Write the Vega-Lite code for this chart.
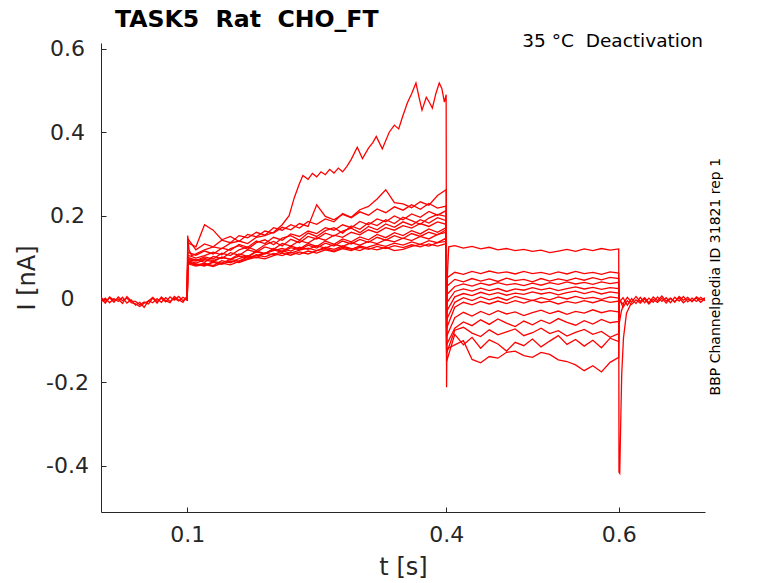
{
  "$schema": "https://vega.github.io/schema/vega-lite/v6.json",
  "width": 604,
  "height": 469,
  "autosize": {"type": "none"},
  "padding": {"left": 101, "top": 43, "right": 73, "bottom": 71},
  "background": "white",
  "data": {
    "values": [
      {"s":"b1","t":0,"i":0.004},{"s":"b1","t":0.005,"i":-0.006},{"s":"b1","t":0.01,"i":0.003},{"s":"b1","t":0.015,"i":-0.008},{"s":"b1","t":0.02,"i":0.005},{"s":"b1","t":0.025,"i":-0.004},{"s":"b1","t":0.03,"i":0.002},{"s":"b1","t":0.035,"i":-0.009},{"s":"b1","t":0.04,"i":-0.012},{"s":"b1","t":0.045,"i":-0.018},{"s":"b1","t":0.05,"i":-0.01},{"s":"b1","t":0.055,"i":-0.005},{"s":"b1","t":0.06,"i":0.004},{"s":"b1","t":0.065,"i":-0.006},{"s":"b1","t":0.07,"i":0.002},{"s":"b1","t":0.075,"i":-0.007},{"s":"b1","t":0.08,"i":0.005},{"s":"b1","t":0.085,"i":-0.003},{"s":"b1","t":0.09,"i":0.006},{"s":"b1","t":0.095,"i":-0.004},{"s":"b1","t":0.1,"i":0.003},
      {"s":"b2","t":0,"i":-0.007},{"s":"b2","t":0.005,"i":0.002},{"s":"b2","t":0.01,"i":-0.009},{"s":"b2","t":0.015,"i":0.001},{"s":"b2","t":0.02,"i":-0.006},{"s":"b2","t":0.025,"i":0.004},{"s":"b2","t":0.03,"i":-0.01},{"s":"b2","t":0.035,"i":-0.002},{"s":"b2","t":0.04,"i":-0.015},{"s":"b2","t":0.045,"i":-0.008},{"s":"b2","t":0.05,"i":-0.02},{"s":"b2","t":0.055,"i":-0.004},{"s":"b2","t":0.06,"i":-0.009},{"s":"b2","t":0.065,"i":0.001},{"s":"b2","t":0.07,"i":-0.008},{"s":"b2","t":0.075,"i":0.003},{"s":"b2","t":0.08,"i":-0.006},{"s":"b2","t":0.085,"i":0.002},{"s":"b2","t":0.09,"i":-0.005},{"s":"b2","t":0.095,"i":0.004},{"s":"b2","t":0.1,"i":-0.002},
      {"s":"b3","t":0,"i":0.001},{"s":"b3","t":0.005,"i":-0.01},{"s":"b3","t":0.01,"i":0.005},{"s":"b3","t":0.015,"i":-0.003},{"s":"b3","t":0.02,"i":0},{"s":"b3","t":0.025,"i":-0.011},{"s":"b3","t":0.03,"i":0.006},{"s":"b3","t":0.035,"i":-0.005},{"s":"b3","t":0.04,"i":-0.006},{"s":"b3","t":0.045,"i":-0.014},{"s":"b3","t":0.05,"i":-0.007},{"s":"b3","t":0.055,"i":-0.012},{"s":"b3","t":0.06,"i":0.002},{"s":"b3","t":0.065,"i":-0.01},{"s":"b3","t":0.07,"i":0.005},{"s":"b3","t":0.075,"i":-0.004},{"s":"b3","t":0.08,"i":-0.009},{"s":"b3","t":0.085,"i":0.006},{"s":"b3","t":0.09,"i":-0.002},{"s":"b3","t":0.095,"i":-0.008},{"s":"b3","t":0.1,"i":0.008},

      {"s":"r1","t":0.1,"i":-0.003},{"s":"r1","t":0.1005,"i":0.152},{"s":"r1","t":0.102,"i":0.118},{"s":"r1","t":0.105,"i":0.104},{"s":"r1","t":0.11,"i":0.108},{"s":"r1","t":0.12,"i":0.118},{"s":"r1","t":0.13,"i":0.125},{"s":"r1","t":0.14,"i":0.121},{"s":"r1","t":0.15,"i":0.134},{"s":"r1","t":0.16,"i":0.139},{"s":"r1","t":0.17,"i":0.133},{"s":"r1","t":0.18,"i":0.148},{"s":"r1","t":0.19,"i":0.152},{"s":"r1","t":0.2,"i":0.16},{"s":"r1","t":0.21,"i":0.178},{"s":"r1","t":0.218,"i":0.2},{"s":"r1","t":0.224,"i":0.243},{"s":"r1","t":0.23,"i":0.277},{"s":"r1","t":0.234,"i":0.296},{"s":"r1","t":0.24,"i":0.287},{"s":"r1","t":0.245,"i":0.301},{"s":"r1","t":0.25,"i":0.293},{"s":"r1","t":0.255,"i":0.305},{"s":"r1","t":0.26,"i":0.298},{"s":"r1","t":0.265,"i":0.311},{"s":"r1","t":0.27,"i":0.302},{"s":"r1","t":0.275,"i":0.314},{"s":"r1","t":0.28,"i":0.305},{"s":"r1","t":0.285,"i":0.318},{"s":"r1","t":0.29,"i":0.335},{"s":"r1","t":0.297,"i":0.364},{"s":"r1","t":0.303,"i":0.337},{"s":"r1","t":0.31,"i":0.362},{"s":"r1","t":0.315,"i":0.375},{"s":"r1","t":0.319,"i":0.39},{"s":"r1","t":0.326,"i":0.36},{"s":"r1","t":0.334,"i":0.4},{"s":"r1","t":0.34,"i":0.417},{"s":"r1","t":0.345,"i":0.408},{"s":"r1","t":0.349,"i":0.434},{"s":"r1","t":0.355,"i":0.47},{"s":"r1","t":0.36,"i":0.492},{"s":"r1","t":0.365,"i":0.518},{"s":"r1","t":0.369,"i":0.48},{"s":"r1","t":0.372,"i":0.453},{"s":"r1","t":0.377,"i":0.484},{"s":"r1","t":0.381,"i":0.47},{"s":"r1","t":0.384,"i":0.458},{"s":"r1","t":0.388,"i":0.492},{"s":"r1","t":0.392,"i":0.518},{"s":"r1","t":0.395,"i":0.505},{"s":"r1","t":0.398,"i":0.472},{"s":"r1","t":0.4,"i":0.49},
      {"s":"r1","t":0.4005,"i":-0.212},{"s":"r1","t":0.4015,"i":0.06},{"s":"r1","t":0.403,"i":0.125},{"s":"r1","t":0.41,"i":0.128},{"s":"r1","t":0.42,"i":0.122},{"s":"r1","t":0.43,"i":0.126},{"s":"r1","t":0.44,"i":0.12},{"s":"r1","t":0.45,"i":0.124},{"s":"r1","t":0.46,"i":0.118},{"s":"r1","t":0.47,"i":0.121},{"s":"r1","t":0.48,"i":0.116},{"s":"r1","t":0.49,"i":0.119},{"s":"r1","t":0.5,"i":0.114},{"s":"r1","t":0.51,"i":0.117},{"s":"r1","t":0.52,"i":0.111},{"s":"r1","t":0.53,"i":0.115},{"s":"r1","t":0.54,"i":0.119},{"s":"r1","t":0.55,"i":0.114},{"s":"r1","t":0.56,"i":0.12},{"s":"r1","t":0.57,"i":0.116},{"s":"r1","t":0.58,"i":0.121},{"s":"r1","t":0.59,"i":0.117},{"s":"r1","t":0.6,"i":0.12},
      {"s":"r1","t":0.6003,"i":-0.415},{"s":"r1","t":0.6012,"i":-0.418},{"s":"r1","t":0.6025,"i":-0.277},{"s":"r1","t":0.6035,"i":-0.18},{"s":"r1","t":0.6055,"i":-0.094},{"s":"r1","t":0.609,"i":-0.034},{"s":"r1","t":0.614,"i":-0.012},

      {"s":"r2","t":0.1,"i":-0.003},{"s":"r2","t":0.1005,"i":0.145},{"s":"r2","t":0.11,"i":0.118},{"s":"r2","t":0.12,"i":0.132},{"s":"r2","t":0.13,"i":0.125},{"s":"r2","t":0.14,"i":0.141},{"s":"r2","t":0.15,"i":0.135},{"s":"r2","t":0.16,"i":0.152},{"s":"r2","t":0.17,"i":0.147},{"s":"r2","t":0.18,"i":0.16},{"s":"r2","t":0.19,"i":0.153},{"s":"r2","t":0.2,"i":0.171},{"s":"r2","t":0.21,"i":0.165},{"s":"r2","t":0.22,"i":0.178},{"s":"r2","t":0.23,"i":0.17},{"s":"r2","t":0.24,"i":0.186},{"s":"r2","t":0.25,"i":0.179},{"s":"r2","t":0.26,"i":0.192},{"s":"r2","t":0.27,"i":0.185},{"s":"r2","t":0.28,"i":0.205},{"s":"r2","t":0.29,"i":0.196},{"s":"r2","t":0.3,"i":0.214},{"s":"r2","t":0.31,"i":0.222},{"s":"r2","t":0.32,"i":0.24},{"s":"r2","t":0.33,"i":0.262},{"s":"r2","t":0.34,"i":0.231},{"s":"r2","t":0.35,"i":0.228},{"s":"r2","t":0.36,"i":0.219},{"s":"r2","t":0.37,"i":0.233},{"s":"r2","t":0.38,"i":0.225},{"s":"r2","t":0.39,"i":0.248},{"s":"r2","t":0.4,"i":0.262},
      {"s":"r2","t":0.4005,"i":0.05},{"s":"r2","t":0.41,"i":0.064},{"s":"r2","t":0.42,"i":0.059},{"s":"r2","t":0.43,"i":0.066},{"s":"r2","t":0.44,"i":0.061},{"s":"r2","t":0.45,"i":0.067},{"s":"r2","t":0.46,"i":0.062},{"s":"r2","t":0.47,"i":0.065},{"s":"r2","t":0.48,"i":0.06},{"s":"r2","t":0.49,"i":0.066},{"s":"r2","t":0.5,"i":0.061},{"s":"r2","t":0.51,"i":0.064},{"s":"r2","t":0.52,"i":0.059},{"s":"r2","t":0.53,"i":0.065},{"s":"r2","t":0.54,"i":0.06},{"s":"r2","t":0.55,"i":0.066},{"s":"r2","t":0.56,"i":0.061},{"s":"r2","t":0.57,"i":0.064},{"s":"r2","t":0.58,"i":0.059},{"s":"r2","t":0.59,"i":0.065},{"s":"r2","t":0.6,"i":0.062},{"s":"r2","t":0.6005,"i":-0.012},

      {"s":"r3","t":0.1,"i":-0.003},{"s":"r3","t":0.1005,"i":0.135},{"s":"r3","t":0.11,"i":0.125},{"s":"r3","t":0.12,"i":0.178},{"s":"r3","t":0.13,"i":0.165},{"s":"r3","t":0.14,"i":0.142},{"s":"r3","t":0.15,"i":0.15},{"s":"r3","t":0.16,"i":0.138},{"s":"r3","t":0.17,"i":0.155},{"s":"r3","t":0.18,"i":0.149},{"s":"r3","t":0.19,"i":0.163},{"s":"r3","t":0.2,"i":0.158},{"s":"r3","t":0.21,"i":0.172},{"s":"r3","t":0.22,"i":0.166},{"s":"r3","t":0.23,"i":0.181},{"s":"r3","t":0.24,"i":0.174},{"s":"r3","t":0.25,"i":0.226},{"s":"r3","t":0.26,"i":0.198},{"s":"r3","t":0.27,"i":0.19},{"s":"r3","t":0.28,"i":0.203},{"s":"r3","t":0.29,"i":0.195},{"s":"r3","t":0.3,"i":0.209},{"s":"r3","t":0.31,"i":0.201},{"s":"r3","t":0.32,"i":0.216},{"s":"r3","t":0.33,"i":0.207},{"s":"r3","t":0.34,"i":0.221},{"s":"r3","t":0.35,"i":0.213},{"s":"r3","t":0.36,"i":0.226},{"s":"r3","t":0.37,"i":0.215},{"s":"r3","t":0.38,"i":0.229},{"s":"r3","t":0.39,"i":0.218},{"s":"r3","t":0.4,"i":0.223},
      {"s":"r3","t":0.4005,"i":0.03},{"s":"r3","t":0.41,"i":0.047},{"s":"r3","t":0.42,"i":0.041},{"s":"r3","t":0.43,"i":0.049},{"s":"r3","t":0.44,"i":0.043},{"s":"r3","t":0.45,"i":0.048},{"s":"r3","t":0.46,"i":0.042},{"s":"r3","t":0.47,"i":0.05},{"s":"r3","t":0.48,"i":0.044},{"s":"r3","t":0.49,"i":0.047},{"s":"r3","t":0.5,"i":0.041},{"s":"r3","t":0.51,"i":0.049},{"s":"r3","t":0.52,"i":0.043},{"s":"r3","t":0.53,"i":0.048},{"s":"r3","t":0.54,"i":0.044},{"s":"r3","t":0.55,"i":0.05},{"s":"r3","t":0.56,"i":0.045},{"s":"r3","t":0.57,"i":0.051},{"s":"r3","t":0.58,"i":0.046},{"s":"r3","t":0.59,"i":0.052},{"s":"r3","t":0.6,"i":0.049},{"s":"r3","t":0.6005,"i":0.004},

      {"s":"r4","t":0.1,"i":-0.003},{"s":"r4","t":0.1005,"i":0.112},{"s":"r4","t":0.11,"i":0.105},{"s":"r4","t":0.12,"i":0.115},{"s":"r4","t":0.13,"i":0.108},{"s":"r4","t":0.14,"i":0.122},{"s":"r4","t":0.15,"i":0.117},{"s":"r4","t":0.16,"i":0.131},{"s":"r4","t":0.17,"i":0.124},{"s":"r4","t":0.18,"i":0.139},{"s":"r4","t":0.19,"i":0.133},{"s":"r4","t":0.2,"i":0.148},{"s":"r4","t":0.21,"i":0.141},{"s":"r4","t":0.22,"i":0.156},{"s":"r4","t":0.23,"i":0.15},{"s":"r4","t":0.24,"i":0.163},{"s":"r4","t":0.25,"i":0.157},{"s":"r4","t":0.26,"i":0.171},{"s":"r4","t":0.27,"i":0.165},{"s":"r4","t":0.28,"i":0.178},{"s":"r4","t":0.29,"i":0.171},{"s":"r4","t":0.3,"i":0.186},{"s":"r4","t":0.31,"i":0.178},{"s":"r4","t":0.32,"i":0.192},{"s":"r4","t":0.33,"i":0.185},{"s":"r4","t":0.34,"i":0.199},{"s":"r4","t":0.35,"i":0.19},{"s":"r4","t":0.36,"i":0.204},{"s":"r4","t":0.37,"i":0.196},{"s":"r4","t":0.38,"i":0.21},{"s":"r4","t":0.39,"i":0.201},{"s":"r4","t":0.4,"i":0.212},
      {"s":"r4","t":0.4005,"i":0.01},{"s":"r4","t":0.41,"i":0.03},{"s":"r4","t":0.42,"i":0.036},{"s":"r4","t":0.43,"i":0.031},{"s":"r4","t":0.44,"i":0.038},{"s":"r4","t":0.45,"i":0.033},{"s":"r4","t":0.46,"i":0.039},{"s":"r4","t":0.47,"i":0.034},{"s":"r4","t":0.48,"i":0.037},{"s":"r4","t":0.49,"i":0.032},{"s":"r4","t":0.5,"i":0.038},{"s":"r4","t":0.51,"i":0.033},{"s":"r4","t":0.52,"i":0.039},{"s":"r4","t":0.53,"i":0.035},{"s":"r4","t":0.54,"i":0.041},{"s":"r4","t":0.55,"i":0.036},{"s":"r4","t":0.56,"i":0.04},{"s":"r4","t":0.57,"i":0.035},{"s":"r4","t":0.58,"i":0.041},{"s":"r4","t":0.59,"i":0.037},{"s":"r4","t":0.6,"i":0.04},{"s":"r4","t":0.6005,"i":-0.018},

      {"s":"r5","t":0.1,"i":-0.003},{"s":"r5","t":0.1005,"i":0.105},{"s":"r5","t":0.11,"i":0.098},{"s":"r5","t":0.12,"i":0.104},{"s":"r5","t":0.13,"i":0.112},{"s":"r5","t":0.14,"i":0.106},{"s":"r5","t":0.15,"i":0.121},{"s":"r5","t":0.16,"i":0.128},{"s":"r5","t":0.17,"i":0.119},{"s":"r5","t":0.18,"i":0.135},{"s":"r5","t":0.19,"i":0.142},{"s":"r5","t":0.2,"i":0.13},{"s":"r5","t":0.21,"i":0.146},{"s":"r5","t":0.22,"i":0.152},{"s":"r5","t":0.23,"i":0.141},{"s":"r5","t":0.24,"i":0.158},{"s":"r5","t":0.25,"i":0.15},{"s":"r5","t":0.26,"i":0.164},{"s":"r5","t":0.27,"i":0.171},{"s":"r5","t":0.28,"i":0.158},{"s":"r5","t":0.29,"i":0.175},{"s":"r5","t":0.3,"i":0.167},{"s":"r5","t":0.31,"i":0.183},{"s":"r5","t":0.32,"i":0.176},{"s":"r5","t":0.33,"i":0.19},{"s":"r5","t":0.34,"i":0.181},{"s":"r5","t":0.35,"i":0.196},{"s":"r5","t":0.36,"i":0.188},{"s":"r5","t":0.37,"i":0.179},{"s":"r5","t":0.38,"i":0.194},{"s":"r5","t":0.39,"i":0.203},{"s":"r5","t":0.4,"i":0.198},
      {"s":"r5","t":0.4005,"i":-0.01},{"s":"r5","t":0.41,"i":0.018},{"s":"r5","t":0.42,"i":0.024},{"s":"r5","t":0.43,"i":0.019},{"s":"r5","t":0.44,"i":0.026},{"s":"r5","t":0.45,"i":0.02},{"s":"r5","t":0.46,"i":0.025},{"s":"r5","t":0.47,"i":0.018},{"s":"r5","t":0.48,"i":0.024},{"s":"r5","t":0.49,"i":0.021},{"s":"r5","t":0.5,"i":0.027},{"s":"r5","t":0.51,"i":0.022},{"s":"r5","t":0.52,"i":0.026},{"s":"r5","t":0.53,"i":0.02},{"s":"r5","t":0.54,"i":0.025},{"s":"r5","t":0.55,"i":0.029},{"s":"r5","t":0.56,"i":0.024},{"s":"r5","t":0.57,"i":0.028},{"s":"r5","t":0.58,"i":0.023},{"s":"r5","t":0.59,"i":0.027},{"s":"r5","t":0.6,"i":0.025},{"s":"r5","t":0.6005,"i":-0.006},

      {"s":"r6","t":0.1,"i":-0.003},{"s":"r6","t":0.1005,"i":0.1},{"s":"r6","t":0.11,"i":0.092},{"s":"r6","t":0.12,"i":0.101},{"s":"r6","t":0.13,"i":0.096},{"s":"r6","t":0.14,"i":0.11},{"s":"r6","t":0.15,"i":0.104},{"s":"r6","t":0.16,"i":0.118},{"s":"r6","t":0.17,"i":0.125},{"s":"r6","t":0.18,"i":0.116},{"s":"r6","t":0.19,"i":0.13},{"s":"r6","t":0.2,"i":0.138},{"s":"r6","t":0.21,"i":0.127},{"s":"r6","t":0.22,"i":0.143},{"s":"r6","t":0.23,"i":0.135},{"s":"r6","t":0.24,"i":0.15},{"s":"r6","t":0.25,"i":0.144},{"s":"r6","t":0.26,"i":0.158},{"s":"r6","t":0.27,"i":0.151},{"s":"r6","t":0.28,"i":0.163},{"s":"r6","t":0.29,"i":0.17},{"s":"r6","t":0.3,"i":0.159},{"s":"r6","t":0.31,"i":0.174},{"s":"r6","t":0.32,"i":0.166},{"s":"r6","t":0.33,"i":0.18},{"s":"r6","t":0.34,"i":0.172},{"s":"r6","t":0.35,"i":0.185},{"s":"r6","t":0.36,"i":0.177},{"s":"r6","t":0.37,"i":0.19},{"s":"r6","t":0.38,"i":0.182},{"s":"r6","t":0.39,"i":0.195},{"s":"r6","t":0.4,"i":0.188},
      {"s":"r6","t":0.4005,"i":-0.03},{"s":"r6","t":0.41,"i":0.005},{"s":"r6","t":0.42,"i":0.013},{"s":"r6","t":0.43,"i":0.008},{"s":"r6","t":0.44,"i":0.016},{"s":"r6","t":0.45,"i":0.01},{"s":"r6","t":0.46,"i":0.015},{"s":"r6","t":0.47,"i":0.009},{"s":"r6","t":0.48,"i":0.014},{"s":"r6","t":0.49,"i":0.011},{"s":"r6","t":0.5,"i":0.017},{"s":"r6","t":0.51,"i":0.012},{"s":"r6","t":0.52,"i":0.016},{"s":"r6","t":0.53,"i":0.01},{"s":"r6","t":0.54,"i":0.015},{"s":"r6","t":0.55,"i":0.019},{"s":"r6","t":0.56,"i":0.013},{"s":"r6","t":0.57,"i":0.018},{"s":"r6","t":0.58,"i":0.012},{"s":"r6","t":0.59,"i":0.017},{"s":"r6","t":0.6,"i":0.014},{"s":"r6","t":0.6005,"i":0.002},

      {"s":"r7","t":0.1,"i":-0.003},{"s":"r7","t":0.1005,"i":0.096},{"s":"r7","t":0.11,"i":0.095},{"s":"r7","t":0.12,"i":0.088},{"s":"r7","t":0.13,"i":0.102},{"s":"r7","t":0.14,"i":0.097},{"s":"r7","t":0.15,"i":0.111},{"s":"r7","t":0.16,"i":0.105},{"s":"r7","t":0.17,"i":0.118},{"s":"r7","t":0.18,"i":0.112},{"s":"r7","t":0.19,"i":0.125},{"s":"r7","t":0.2,"i":0.119},{"s":"r7","t":0.21,"i":0.133},{"s":"r7","t":0.22,"i":0.127},{"s":"r7","t":0.23,"i":0.14},{"s":"r7","t":0.24,"i":0.134},{"s":"r7","t":0.25,"i":0.147},{"s":"r7","t":0.26,"i":0.141},{"s":"r7","t":0.27,"i":0.153},{"s":"r7","t":0.28,"i":0.148},{"s":"r7","t":0.29,"i":0.16},{"s":"r7","t":0.3,"i":0.154},{"s":"r7","t":0.31,"i":0.166},{"s":"r7","t":0.32,"i":0.159},{"s":"r7","t":0.33,"i":0.171},{"s":"r7","t":0.34,"i":0.165},{"s":"r7","t":0.35,"i":0.176},{"s":"r7","t":0.36,"i":0.17},{"s":"r7","t":0.37,"i":0.181},{"s":"r7","t":0.38,"i":0.174},{"s":"r7","t":0.39,"i":0.185},{"s":"r7","t":0.4,"i":0.179},
      {"s":"r7","t":0.4005,"i":-0.05},{"s":"r7","t":0.41,"i":-0.008},{"s":"r7","t":0.42,"i":0.003},{"s":"r7","t":0.43,"i":-0.004},{"s":"r7","t":0.44,"i":0.005},{"s":"r7","t":0.45,"i":-0.002},{"s":"r7","t":0.46,"i":0.004},{"s":"r7","t":0.47,"i":-0.003},{"s":"r7","t":0.48,"i":0.006},{"s":"r7","t":0.49,"i":0.001},{"s":"r7","t":0.5,"i":-0.004},{"s":"r7","t":0.51,"i":0.003},{"s":"r7","t":0.52,"i":-0.002},{"s":"r7","t":0.53,"i":0.005},{"s":"r7","t":0.54,"i":0},{"s":"r7","t":0.55,"i":0.006},{"s":"r7","t":0.56,"i":0.001},{"s":"r7","t":0.57,"i":0.004},{"s":"r7","t":0.58,"i":-0.001},{"s":"r7","t":0.59,"i":0.005},{"s":"r7","t":0.6,"i":0.002},{"s":"r7","t":0.6005,"i":-0.022},

      {"s":"r8","t":0.1,"i":-0.003},{"s":"r8","t":0.1005,"i":0.092},{"s":"r8","t":0.11,"i":0.086},{"s":"r8","t":0.12,"i":0.094},{"s":"r8","t":0.13,"i":0.089},{"s":"r8","t":0.14,"i":0.1},{"s":"r8","t":0.15,"i":0.095},{"s":"r8","t":0.16,"i":0.108},{"s":"r8","t":0.17,"i":0.102},{"s":"r8","t":0.18,"i":0.115},{"s":"r8","t":0.19,"i":0.109},{"s":"r8","t":0.2,"i":0.121},{"s":"r8","t":0.21,"i":0.114},{"s":"r8","t":0.22,"i":0.127},{"s":"r8","t":0.23,"i":0.12},{"s":"r8","t":0.24,"i":0.133},{"s":"r8","t":0.25,"i":0.126},{"s":"r8","t":0.26,"i":0.139},{"s":"r8","t":0.27,"i":0.131},{"s":"r8","t":0.28,"i":0.144},{"s":"r8","t":0.29,"i":0.137},{"s":"r8","t":0.3,"i":0.149},{"s":"r8","t":0.31,"i":0.142},{"s":"r8","t":0.32,"i":0.155},{"s":"r8","t":0.33,"i":0.147},{"s":"r8","t":0.34,"i":0.159},{"s":"r8","t":0.35,"i":0.152},{"s":"r8","t":0.36,"i":0.164},{"s":"r8","t":0.37,"i":0.156},{"s":"r8","t":0.38,"i":0.168},{"s":"r8","t":0.39,"i":0.16},{"s":"r8","t":0.4,"i":0.171},
      {"s":"r8","t":0.4005,"i":-0.07},{"s":"r8","t":0.41,"i":-0.02},{"s":"r8","t":0.42,"i":-0.008},{"s":"r8","t":0.43,"i":-0.014},{"s":"r8","t":0.44,"i":-0.006},{"s":"r8","t":0.45,"i":-0.012},{"s":"r8","t":0.46,"i":-0.005},{"s":"r8","t":0.47,"i":-0.011},{"s":"r8","t":0.48,"i":-0.004},{"s":"r8","t":0.49,"i":-0.01},{"s":"r8","t":0.5,"i":-0.003},{"s":"r8","t":0.51,"i":-0.009},{"s":"r8","t":0.52,"i":-0.005},{"s":"r8","t":0.53,"i":-0.012},{"s":"r8","t":0.54,"i":-0.006},{"s":"r8","t":0.55,"i":-0.01},{"s":"r8","t":0.56,"i":-0.004},{"s":"r8","t":0.57,"i":-0.009},{"s":"r8","t":0.58,"i":-0.003},{"s":"r8","t":0.59,"i":-0.008},{"s":"r8","t":0.6,"i":-0.005},{"s":"r8","t":0.6005,"i":-0.01},

      {"s":"r9","t":0.1,"i":-0.003},{"s":"r9","t":0.1005,"i":0.09},{"s":"r9","t":0.11,"i":0.083},{"s":"r9","t":0.12,"i":0.079},{"s":"r9","t":0.13,"i":0.09},{"s":"r9","t":0.14,"i":0.086},{"s":"r9","t":0.15,"i":0.095},{"s":"r9","t":0.16,"i":0.091},{"s":"r9","t":0.17,"i":0.101},{"s":"r9","t":0.18,"i":0.113},{"s":"r9","t":0.19,"i":0.108},{"s":"r9","t":0.2,"i":0.118},{"s":"r9","t":0.21,"i":0.112},{"s":"r9","t":0.22,"i":0.123},{"s":"r9","t":0.23,"i":0.118},{"s":"r9","t":0.24,"i":0.129},{"s":"r9","t":0.25,"i":0.122},{"s":"r9","t":0.26,"i":0.134},{"s":"r9","t":0.27,"i":0.127},{"s":"r9","t":0.28,"i":0.139},{"s":"r9","t":0.29,"i":0.132},{"s":"r9","t":0.3,"i":0.143},{"s":"r9","t":0.31,"i":0.136},{"s":"r9","t":0.32,"i":0.148},{"s":"r9","t":0.33,"i":0.141},{"s":"r9","t":0.34,"i":0.152},{"s":"r9","t":0.35,"i":0.145},{"s":"r9","t":0.36,"i":0.157},{"s":"r9","t":0.37,"i":0.15},{"s":"r9","t":0.38,"i":0.16},{"s":"r9","t":0.39,"i":0.154},{"s":"r9","t":0.4,"i":0.166},
      {"s":"r9","t":0.4005,"i":-0.09},{"s":"r9","t":0.41,"i":-0.045},{"s":"r9","t":0.42,"i":-0.032},{"s":"r9","t":0.43,"i":-0.041},{"s":"r9","t":0.44,"i":-0.03},{"s":"r9","t":0.45,"i":-0.038},{"s":"r9","t":0.46,"i":-0.028},{"s":"r9","t":0.47,"i":-0.036},{"s":"r9","t":0.48,"i":-0.031},{"s":"r9","t":0.49,"i":-0.04},{"s":"r9","t":0.5,"i":-0.033},{"s":"r9","t":0.51,"i":-0.027},{"s":"r9","t":0.52,"i":-0.035},{"s":"r9","t":0.53,"i":-0.029},{"s":"r9","t":0.54,"i":-0.037},{"s":"r9","t":0.55,"i":-0.03},{"s":"r9","t":0.56,"i":-0.034},{"s":"r9","t":0.57,"i":-0.026},{"s":"r9","t":0.58,"i":-0.033},{"s":"r9","t":0.59,"i":-0.028},{"s":"r9","t":0.6,"i":-0.031},{"s":"r9","t":0.6005,"i":0.003},

      {"s":"r10","t":0.1,"i":-0.003},{"s":"r10","t":0.1005,"i":0.088},{"s":"r10","t":0.11,"i":0.081},{"s":"r10","t":0.12,"i":0.086},{"s":"r10","t":0.13,"i":0.08},{"s":"r10","t":0.14,"i":0.092},{"s":"r10","t":0.15,"i":0.087},{"s":"r10","t":0.16,"i":0.097},{"s":"r10","t":0.17,"i":0.104},{"s":"r10","t":0.18,"i":0.099},{"s":"r10","t":0.19,"i":0.11},{"s":"r10","t":0.2,"i":0.116},{"s":"r10","t":0.21,"i":0.121},{"s":"r10","t":0.22,"i":0.115},{"s":"r10","t":0.23,"i":0.124},{"s":"r10","t":0.24,"i":0.119},{"s":"r10","t":0.25,"i":0.128},{"s":"r10","t":0.26,"i":0.122},{"s":"r10","t":0.27,"i":0.131},{"s":"r10","t":0.28,"i":0.126},{"s":"r10","t":0.29,"i":0.135},{"s":"r10","t":0.3,"i":0.129},{"s":"r10","t":0.31,"i":0.138},{"s":"r10","t":0.32,"i":0.133},{"s":"r10","t":0.33,"i":0.142},{"s":"r10","t":0.34,"i":0.137},{"s":"r10","t":0.35,"i":0.146},{"s":"r10","t":0.36,"i":0.14},{"s":"r10","t":0.37,"i":0.15},{"s":"r10","t":0.38,"i":0.144},{"s":"r10","t":0.39,"i":0.155},{"s":"r10","t":0.4,"i":0.16},
      {"s":"r10","t":0.4005,"i":-0.11},{"s":"r10","t":0.41,"i":-0.07},{"s":"r10","t":0.42,"i":-0.055},{"s":"r10","t":0.43,"i":-0.064},{"s":"r10","t":0.44,"i":-0.05},{"s":"r10","t":0.45,"i":-0.061},{"s":"r10","t":0.46,"i":-0.048},{"s":"r10","t":0.47,"i":-0.058},{"s":"r10","t":0.48,"i":-0.066},{"s":"r10","t":0.49,"i":-0.053},{"s":"r10","t":0.5,"i":-0.062},{"s":"r10","t":0.51,"i":-0.051},{"s":"r10","t":0.52,"i":-0.059},{"s":"r10","t":0.53,"i":-0.047},{"s":"r10","t":0.54,"i":-0.056},{"s":"r10","t":0.55,"i":-0.063},{"s":"r10","t":0.56,"i":-0.052},{"s":"r10","t":0.57,"i":-0.06},{"s":"r10","t":0.58,"i":-0.049},{"s":"r10","t":0.59,"i":-0.057},{"s":"r10","t":0.6,"i":-0.054},{"s":"r10","t":0.6005,"i":-0.015},

      {"s":"r11","t":0.1,"i":-0.003},{"s":"r11","t":0.1005,"i":0.085},{"s":"r11","t":0.11,"i":0.079},{"s":"r11","t":0.12,"i":0.083},{"s":"r11","t":0.13,"i":0.078},{"s":"r11","t":0.14,"i":0.086},{"s":"r11","t":0.15,"i":0.082},{"s":"r11","t":0.16,"i":0.09},{"s":"r11","t":0.17,"i":0.096},{"s":"r11","t":0.18,"i":0.104},{"s":"r11","t":0.19,"i":0.11},{"s":"r11","t":0.2,"i":0.106},{"s":"r11","t":0.21,"i":0.115},{"s":"r11","t":0.22,"i":0.11},{"s":"r11","t":0.23,"i":0.117},{"s":"r11","t":0.24,"i":0.122},{"s":"r11","t":0.25,"i":0.116},{"s":"r11","t":0.26,"i":0.124},{"s":"r11","t":0.27,"i":0.119},{"s":"r11","t":0.28,"i":0.127},{"s":"r11","t":0.29,"i":0.121},{"s":"r11","t":0.3,"i":0.116},{"s":"r11","t":0.31,"i":0.125},{"s":"r11","t":0.32,"i":0.131},{"s":"r11","t":0.33,"i":0.126},{"s":"r11","t":0.34,"i":0.134},{"s":"r11","t":0.35,"i":0.129},{"s":"r11","t":0.36,"i":0.137},{"s":"r11","t":0.37,"i":0.131},{"s":"r11","t":0.38,"i":0.14},{"s":"r11","t":0.39,"i":0.135},{"s":"r11","t":0.4,"i":0.146},
      {"s":"r11","t":0.4005,"i":-0.13},{"s":"r11","t":0.41,"i":-0.075},{"s":"r11","t":0.42,"i":-0.068},{"s":"r11","t":0.43,"i":-0.082},{"s":"r11","t":0.44,"i":-0.09},{"s":"r11","t":0.45,"i":-0.074},{"s":"r11","t":0.46,"i":-0.086},{"s":"r11","t":0.47,"i":-0.079},{"s":"r11","t":0.48,"i":-0.072},{"s":"r11","t":0.49,"i":-0.088},{"s":"r11","t":0.5,"i":-0.081},{"s":"r11","t":0.51,"i":-0.07},{"s":"r11","t":0.52,"i":-0.083},{"s":"r11","t":0.53,"i":-0.076},{"s":"r11","t":0.54,"i":-0.089},{"s":"r11","t":0.55,"i":-0.08},{"s":"r11","t":0.56,"i":-0.073},{"s":"r11","t":0.57,"i":-0.085},{"s":"r11","t":0.58,"i":-0.078},{"s":"r11","t":0.59,"i":-0.092},{"s":"r11","t":0.6,"i":-0.083},{"s":"r11","t":0.6005,"i":-0.004},

      {"s":"r12","t":0.1,"i":-0.003},{"s":"r12","t":0.1005,"i":0.086},{"s":"r12","t":0.11,"i":0.084},{"s":"r12","t":0.12,"i":0.08},{"s":"r12","t":0.13,"i":0.088},{"s":"r12","t":0.14,"i":0.083},{"s":"r12","t":0.15,"i":0.091},{"s":"r12","t":0.16,"i":0.087},{"s":"r12","t":0.17,"i":0.095},{"s":"r12","t":0.18,"i":0.1},{"s":"r12","t":0.19,"i":0.096},{"s":"r12","t":0.2,"i":0.104},{"s":"r12","t":0.21,"i":0.11},{"s":"r12","t":0.22,"i":0.105},{"s":"r12","t":0.23,"i":0.113},{"s":"r12","t":0.24,"i":0.108},{"s":"r12","t":0.25,"i":0.116},{"s":"r12","t":0.26,"i":0.121},{"s":"r12","t":0.27,"i":0.115},{"s":"r12","t":0.28,"i":0.124},{"s":"r12","t":0.29,"i":0.119},{"s":"r12","t":0.3,"i":0.127},{"s":"r12","t":0.31,"i":0.122},{"s":"r12","t":0.32,"i":0.118},{"s":"r12","t":0.33,"i":0.124},{"s":"r12","t":0.34,"i":0.116},{"s":"r12","t":0.35,"i":0.119},{"s":"r12","t":0.36,"i":0.126},{"s":"r12","t":0.37,"i":0.131},{"s":"r12","t":0.38,"i":0.127},{"s":"r12","t":0.39,"i":0.135},{"s":"r12","t":0.4,"i":0.138},
      {"s":"r12","t":0.4005,"i":-0.15},{"s":"r12","t":0.41,"i":-0.085},{"s":"r12","t":0.42,"i":-0.11},{"s":"r12","t":0.43,"i":-0.092},{"s":"r12","t":0.44,"i":-0.118},{"s":"r12","t":0.45,"i":-0.098},{"s":"r12","t":0.46,"i":-0.108},{"s":"r12","t":0.47,"i":-0.125},{"s":"r12","t":0.48,"i":-0.104},{"s":"r12","t":0.49,"i":-0.112},{"s":"r12","t":0.5,"i":-0.096},{"s":"r12","t":0.51,"i":-0.115},{"s":"r12","t":0.52,"i":-0.101},{"s":"r12","t":0.53,"i":-0.088},{"s":"r12","t":0.54,"i":-0.109},{"s":"r12","t":0.55,"i":-0.097},{"s":"r12","t":0.56,"i":-0.113},{"s":"r12","t":0.57,"i":-0.099},{"s":"r12","t":0.58,"i":-0.117},{"s":"r12","t":0.59,"i":-0.094},{"s":"r12","t":0.6,"i":-0.102},{"s":"r12","t":0.6005,"i":-0.02},

      {"s":"r13","t":0.1,"i":-0.003},{"s":"r13","t":0.1005,"i":0.094},{"s":"r13","t":0.11,"i":0.091},{"s":"r13","t":0.12,"i":0.097},{"s":"r13","t":0.13,"i":0.092},{"s":"r13","t":0.14,"i":0.1},{"s":"r13","t":0.15,"i":0.095},{"s":"r13","t":0.16,"i":0.103},{"s":"r13","t":0.17,"i":0.098},{"s":"r13","t":0.18,"i":0.106},{"s":"r13","t":0.19,"i":0.101},{"s":"r13","t":0.2,"i":0.109},{"s":"r13","t":0.21,"i":0.104},{"s":"r13","t":0.22,"i":0.112},{"s":"r13","t":0.23,"i":0.107},{"s":"r13","t":0.24,"i":0.115},{"s":"r13","t":0.25,"i":0.11},{"s":"r13","t":0.26,"i":0.118},{"s":"r13","t":0.27,"i":0.113},{"s":"r13","t":0.28,"i":0.121},{"s":"r13","t":0.29,"i":0.116},{"s":"r13","t":0.3,"i":0.124},{"s":"r13","t":0.31,"i":0.119},{"s":"r13","t":0.32,"i":0.126},{"s":"r13","t":0.33,"i":0.121},{"s":"r13","t":0.34,"i":0.128},{"s":"r13","t":0.35,"i":0.123},{"s":"r13","t":0.36,"i":0.13},{"s":"r13","t":0.37,"i":0.125},{"s":"r13","t":0.38,"i":0.132},{"s":"r13","t":0.39,"i":0.127},{"s":"r13","t":0.4,"i":0.133},
      {"s":"r13","t":0.4005,"i":-0.12},{"s":"r13","t":0.41,"i":-0.11},{"s":"r13","t":0.42,"i":-0.1},{"s":"r13","t":0.43,"i":-0.145},{"s":"r13","t":0.44,"i":-0.153},{"s":"r13","t":0.45,"i":-0.138},{"s":"r13","t":0.46,"i":-0.142},{"s":"r13","t":0.47,"i":-0.128},{"s":"r13","t":0.48,"i":-0.125},{"s":"r13","t":0.49,"i":-0.136},{"s":"r13","t":0.5,"i":-0.14},{"s":"r13","t":0.51,"i":-0.128},{"s":"r13","t":0.52,"i":-0.133},{"s":"r13","t":0.53,"i":-0.146},{"s":"r13","t":0.54,"i":-0.15},{"s":"r13","t":0.55,"i":-0.158},{"s":"r13","t":0.56,"i":-0.172},{"s":"r13","t":0.57,"i":-0.16},{"s":"r13","t":0.58,"i":-0.175},{"s":"r13","t":0.59,"i":-0.152},{"s":"r13","t":0.6,"i":-0.14},{"s":"r13","t":0.6005,"i":-0.06},{"s":"r13","t":0.603,"i":-0.03},{"s":"r13","t":0.606,"i":-0.01},

      {"s":"e1","t":0.6,"i":-0.002},{"s":"e1","t":0.605,"i":-0.012},{"s":"e1","t":0.61,"i":0.004},{"s":"e1","t":0.615,"i":-0.008},{"s":"e1","t":0.62,"i":0.006},{"s":"e1","t":0.625,"i":-0.006},{"s":"e1","t":0.63,"i":0.003},{"s":"e1","t":0.635,"i":-0.009},{"s":"e1","t":0.64,"i":0.005},{"s":"e1","t":0.645,"i":-0.004},{"s":"e1","t":0.65,"i":0.007},{"s":"e1","t":0.655,"i":-0.005},{"s":"e1","t":0.66,"i":0.002},{"s":"e1","t":0.665,"i":-0.008},{"s":"e1","t":0.67,"i":0.006},{"s":"e1","t":0.675,"i":-0.003},{"s":"e1","t":0.68,"i":0.004},{"s":"e1","t":0.685,"i":-0.007},{"s":"e1","t":0.69,"i":0.005},{"s":"e1","t":0.695,"i":-0.002},{"s":"e1","t":0.7,"i":0.003},
      {"s":"e2","t":0.6,"i":-0.01},{"s":"e2","t":0.605,"i":0.003},{"s":"e2","t":0.61,"i":-0.015},{"s":"e2","t":0.615,"i":0.001},{"s":"e2","t":0.62,"i":-0.011},{"s":"e2","t":0.625,"i":0.004},{"s":"e2","t":0.63,"i":-0.009},{"s":"e2","t":0.635,"i":0.002},{"s":"e2","t":0.64,"i":-0.008},{"s":"e2","t":0.645,"i":0.005},{"s":"e2","t":0.65,"i":-0.006},{"s":"e2","t":0.655,"i":0.003},{"s":"e2","t":0.66,"i":-0.009},{"s":"e2","t":0.665,"i":0.004},{"s":"e2","t":0.67,"i":-0.005},{"s":"e2","t":0.675,"i":0.006},{"s":"e2","t":0.68,"i":-0.007},{"s":"e2","t":0.685,"i":0.002},{"s":"e2","t":0.69,"i":-0.006},{"s":"e2","t":0.695,"i":0.004},{"s":"e2","t":0.7,"i":-0.004},
      {"s":"e3","t":0.6,"i":0.005},{"s":"e3","t":0.605,"i":-0.02},{"s":"e3","t":0.61,"i":-0.004},{"s":"e3","t":0.615,"i":-0.013},{"s":"e3","t":0.62,"i":-0.002},{"s":"e3","t":0.625,"i":-0.01},{"s":"e3","t":0.63,"i":0},{"s":"e3","t":0.635,"i":-0.012},{"s":"e3","t":0.64,"i":-0.001},{"s":"e3","t":0.645,"i":-0.008},{"s":"e3","t":0.65,"i":0.002},{"s":"e3","t":0.655,"i":-0.01},{"s":"e3","t":0.66,"i":0.001},{"s":"e3","t":0.665,"i":-0.006},{"s":"e3","t":0.67,"i":0.003},{"s":"e3","t":0.675,"i":-0.009},{"s":"e3","t":0.68,"i":0},{"s":"e3","t":0.685,"i":-0.005},{"s":"e3","t":0.69,"i":0.002},{"s":"e3","t":0.695,"i":-0.008},{"s":"e3","t":0.7,"i":0.001}
    ]
  },
  "layer": [
    {
      "mark": {"type": "line", "color": "#ff0000", "strokeWidth": 1.3, "clip": true},
      "encoding": {
        "x": {
          "field": "t",
          "type": "quantitative",
          "scale": {"domain": [0, 0.7], "nice": false, "zero": false},
          "axis": {
            "values": [0.1, 0.4, 0.6],
            "format": ".1f",
            "title": "t [s]",
            "tickSize": -5,
            "labelPadding": 17,
            "labelFontSize": 22,
            "titleFontSize": 24,
            "titleBaseline": "alphabetic",
            "titleY": 62
          }
        },
        "y": {
          "field": "i",
          "type": "quantitative",
          "scale": {"domain": [-0.511, 0.614], "nice": false, "zero": false},
          "axis": {
            "values": [-0.4, -0.2, 0, 0.2, 0.4, 0.6],
            "labelExpr": "'' + datum.value",
            "title": "I [nA]",
            "tickSize": -5,
            "labelPadding": 39,
            "labelAlign": "center",
            "labelFontSize": 22,
            "titleFontSize": 24,
            "titleAngle": 270,
            "titleBaseline": "alphabetic",
            "titleX": -67
          }
        },
        "detail": {"field": "s"}
      }
    },
    {
      "data": {"values": [{"label": "TASK5\u00a0 Rat\u00a0 CHO_FT"}]},
      "mark": {"type": "text", "align": "left", "baseline": "alphabetic", "font": "DejaVu Sans", "fontSize": 23.6, "fontWeight": "bold", "color": "#000000"},
      "encoding": {
        "x": {"datum": 0.0162, "type": "quantitative"},
        "y": {"datum": 0.6535, "type": "quantitative"},
        "text": {"field": "label"}
      }
    },
    {
      "data": {"values": [{"label": "35 °C\u00a0 Deactivation"}]},
      "mark": {"type": "text", "align": "right", "baseline": "alphabetic", "font": "DejaVu Sans", "fontSize": 18.5, "color": "#000000"},
      "encoding": {
        "x": {"datum": 0.6976, "type": "quantitative"},
        "y": {"datum": 0.605, "type": "quantitative"},
        "text": {"field": "label"}
      }
    },
    {
      "data": {"values": [{"label": "BBP Channelpedia ID 31821 rep 1"}]},
      "mark": {"type": "text", "angle": 270, "align": "center", "baseline": "middle", "font": "DejaVu Sans", "fontSize": 14, "color": "#000000"},
      "encoding": {
        "x": {"datum": 0.713, "type": "quantitative"},
        "y": {"datum": 0.0535, "type": "quantitative"},
        "text": {"field": "label"}
      }
    }
  ],
  "config": {
    "view": {"stroke": null},
    "axis": {
      "grid": false,
      "domainColor": "#262626",
      "tickColor": "#262626",
      "labelColor": "#262626",
      "titleColor": "#262626",
      "labelFont": "DejaVu Sans",
      "titleFont": "DejaVu Sans",
      "titleFontWeight": "normal",
      "labelFlush": false
    }
  }
}
